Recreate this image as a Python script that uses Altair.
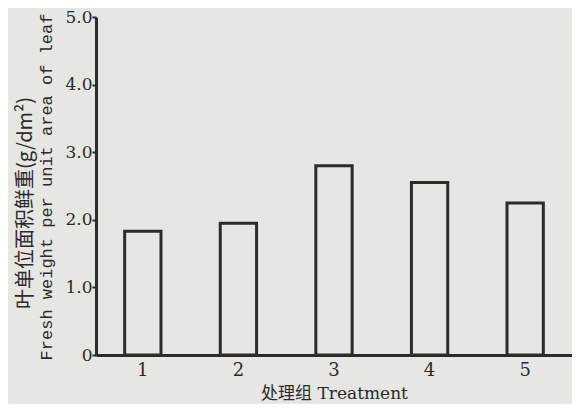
import altair as alt
import pandas as pd

treatments = ["1", "2", "3", "4", "5"]
fresh_weight = [1.83, 1.95, 2.80, 2.55, 2.25]
y_ticks = [0, 1, 2, 3, 4, 5]
y_title_cn = "叶单位面积鲜重(g/dm²)"
y_title_en = "Fresh weight per unit area of leaf"
x_title = "处理组 Treatment"

BG = "#e6e6e3"
INK = "#2b2b2b"

df = pd.DataFrame({"treatment": treatments, "value": fresh_weight})

bars = alt.Chart(df).mark_bar(
    fill=BG, stroke=INK, strokeWidth=3
).encode(
    x=alt.X("treatment:N", sort=treatments,
            scale=alt.Scale(paddingInner=0.62, paddingOuter=0.30),
            axis=alt.Axis(title=x_title, labelAngle=0, ticks=False,
                          labelPadding=6, titlePadding=6,
                          labelFont="DejaVu Serif", labelFontSize=18,
                          titleFont="DejaVu Serif, Noto Sans CJK SC",
                          titleFontSize=17, titleFontWeight="normal",
                          titleColor=INK, labelColor=INK,
                          domainColor=INK, domainWidth=3)),
    y=alt.Y("value:Q", scale=alt.Scale(domain=[0, 5], nice=False),
            axis=alt.Axis(title=None, values=y_ticks,
                          labelExpr="datum.value == 0 ? '0' : format(datum.value, '.1f')",
                          tickSize=4, tickWidth=2, tickColor=INK,
                          labelPadding=0, grid=False,
                          labelFont="DejaVu Serif", labelFontSize=17,
                          labelColor=INK, domainColor=INK, domainWidth=3)),
)

title_df = pd.DataFrame({"t": [y_title_cn]})
cn_title = alt.Chart(title_df).mark_text(
    angle=270, align="center", baseline="middle",
    font="Noto Sans CJK SC", fontSize=20, color=INK
).encode(x=alt.value(-70), y=alt.value(186), text="t:N")

en_df = pd.DataFrame({"t": [y_title_en]})
en_title = alt.Chart(en_df).mark_text(
    angle=270, align="center", baseline="middle",
    font="Liberation Mono", fontSize=17, color=INK
).encode(x=alt.value(-49), y=alt.value(170), text="t:N")

chart = alt.layer(bars, cn_title, en_title).properties(
    width=476, height=338,
    background=BG,
    autosize=alt.AutoSizeParams(type="none"),
    padding={"left": 88, "top": 9, "right": 0, "bottom": 49},
).configure_view(stroke=None)

chart.save("out.html", embed_options={"renderer": "svg", "actions": False})
